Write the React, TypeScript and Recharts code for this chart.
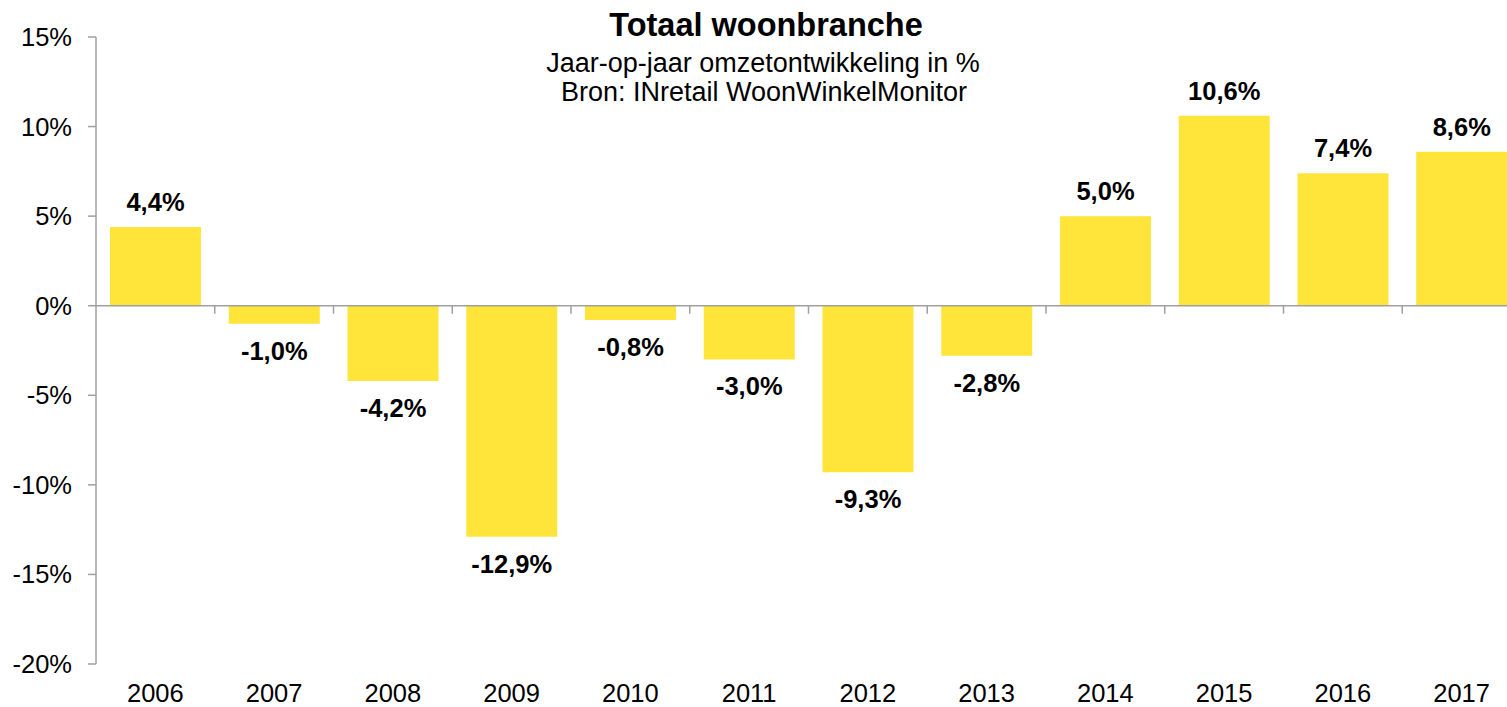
import React from 'react';
import { BarChart, Bar, XAxis, YAxis, ReferenceLine, LabelList } from 'recharts';

const years = ['2006', '2007', '2008', '2009', '2010', '2011', '2012', '2013', '2014', '2015', '2016', '2017'];
const growth = [4.4, -1.0, -4.2, -12.9, -0.8, -3.0, -9.3, -2.8, 5.0, 10.6, 7.4, 8.6];
const yTicks = [-20, -15, -10, -5, 0, 5, 10, 15];
const titleText = 'Totaal woonbranche';
const subtitleLine1 = 'Jaar-op-jaar omzetontwikkeling in %';
const subtitleLine2 = 'Bron: INretail WoonWinkelMonitor';

const data = years.map((year, i) => ({ year, value: growth[i] }));

const AXIS = '#A0A0A0';
const BAR = '#FFE43A';
const FONT = '"Liberation Sans", Arial, Helvetica, sans-serif';

const fmt = (v: number) => `${v.toFixed(1).replace('.', ',')}%`;

function BarValueLabel(props: any) {
  const { x, y, width, height, value } = props;
  const nx = Number(x);
  const ny = Number(y);
  const nh = Number(height);
  const cx = nx + Number(width) / 2;
  const top = Math.min(ny, ny + nh);
  const bottom = Math.max(ny, ny + nh);
  const v = Number(value);
  const ty = v >= 0 ? top - 16 : bottom + 36;
  return (
    <text x={cx} y={ty} textAnchor="middle" fontFamily={FONT} fontSize={25.5} fontWeight="bold" fill="#000">
      {fmt(v)}
    </text>
  );
}

function ZeroAxis(props: any) {
  const { x1, y1, x2, y2 } = props;
  const n = years.length;
  const step = (Number(x2) - Number(x1)) / n;
  const marks = [];
  for (let i = 1; i < n; i++) {
    const tx = Number(x1) + i * step;
    marks.push(<line key={i} x1={tx} x2={tx} y1={Number(y1)} y2={Number(y1) + 8} stroke={AXIS} strokeWidth={1.5} />);
  }
  return (
    <g>
      <line x1={x1} y1={y1} x2={x2} y2={y2} stroke={AXIS} strokeWidth={1.5} />
      {marks}
    </g>
  );
}

export default function App() {
  return (
    <div style={{ position: 'absolute', left: 0, top: 0, width: 1507, height: 707, overflow: 'hidden', background: '#fff' }}>
      <BarChart
        width={1521}
        height={707}
        data={data}
        margin={{ top: 37, right: 0, bottom: 0, left: 0 }}
        barSize={91}
      >
        <XAxis
          dataKey="year"
          axisLine={false}
          tickLine={false}
          tickSize={6}
          tickMargin={14}
          interval={0}
          height={43}
          tick={{ fill: '#000', fontSize: 25.5, fontFamily: FONT }}
        />
        <YAxis
          width={96}
          domain={[-20, 15]}
          ticks={yTicks}
          interval={0}
          allowDataOverflow
          tickFormatter={(v: number) => `${v}%`}
          tickSize={8}
          tickMargin={16}
          axisLine={{ stroke: AXIS, strokeWidth: 1.5 }}
          tickLine={{ stroke: AXIS, strokeWidth: 1.5 }}
          tick={{ fill: '#000', fontSize: 25.5, fontFamily: FONT }}
        />
        <Bar dataKey="value" fill={BAR} isAnimationActive={false}>
          <LabelList dataKey="value" content={BarValueLabel} />
        </Bar>
        <ReferenceLine y={0} stroke={AXIS} shape={ZeroAxis} />
      </BarChart>
      <svg width={1507} height={110} style={{ position: 'absolute', left: 0, top: 0, pointerEvents: 'none' }}>
        <text x={766} y={36} textAnchor="middle" fontFamily={FONT} fontSize={32.5} fontWeight="bold" fill="#000">
          {titleText}
        </text>
        <text x={763} y={72} textAnchor="middle" fontFamily={FONT} fontSize={27} fill="#000">
          {subtitleLine1}
        </text>
        <text x={764} y={101} textAnchor="middle" fontFamily={FONT} fontSize={27} fill="#000">
          {subtitleLine2}
        </text>
      </svg>
    </div>
  );
}
